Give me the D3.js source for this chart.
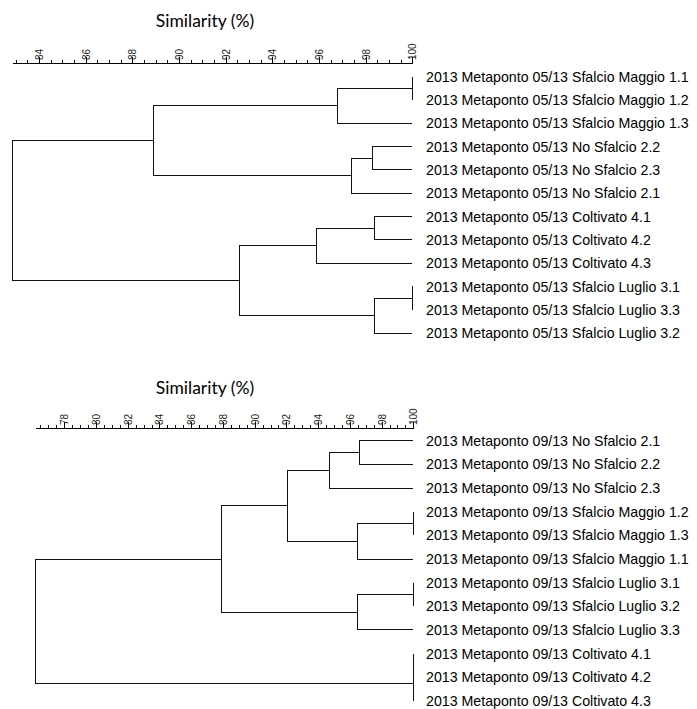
<!DOCTYPE html>
<meta charset="utf-8">
<style>
  body { margin: 0; background: #fff; }
  .axis path, .axis line { fill: none; stroke: #000; shape-rendering: crispEdges; }
  .axis text { font-family: "Liberation Sans", Arial, sans-serif; font-size: 10px; fill: #222; }
  .title { font-family: Lato, "Open Sans", sans-serif; font-size: 17.5px; fill: #000; }
  .leaf { font-family: "Liberation Sans", Arial, sans-serif; font-size: 14.2px; fill: #000; }
  .link { fill: none; stroke: #111; stroke-width: 1; shape-rendering: crispEdges; }
</style>
<body>
<div id="chart"></div>
<script src="https://d3js.org/d3.v7.min.js"></script>
<script>

// top dendrogram (05/13)
var topLeaves = [
  "2013 Metaponto 05/13 Sfalcio Maggio 1.1",
  "2013 Metaponto 05/13 Sfalcio Maggio 1.2",
  "2013 Metaponto 05/13 Sfalcio Maggio 1.3",
  "2013 Metaponto 05/13 No Sfalcio 2.2",
  "2013 Metaponto 05/13 No Sfalcio 2.3",
  "2013 Metaponto 05/13 No Sfalcio 2.1",
  "2013 Metaponto 05/13 Coltivato 4.1",
  "2013 Metaponto 05/13 Coltivato 4.2",
  "2013 Metaponto 05/13 Coltivato 4.3",
  "2013 Metaponto 05/13 Sfalcio Luglio 3.1",
  "2013 Metaponto 05/13 Sfalcio Luglio 3.3",
  "2013 Metaponto 05/13 Sfalcio Luglio 3.2"
];
// merges: [child a, child b, similarity]; ids 0-11 are leaves, merge k gets id 12+k
var topMerges = [
  [0, 1, 100], [12, 2, 96.8], [3, 4, 98.3], [14, 5, 97.4], [13, 15, 88.9],
  [6, 7, 98.4], [17, 8, 95.9], [9, 10, 100], [19, 11, 98.4], [18, 20, 92.6],
  [16, 21, 82.86]
];
var topTicks = [84, 86, 88, 90, 92, 94, 96, 98, 100];

// bottom dendrogram (09/13)
var bottomLeaves = [
  "2013 Metaponto 09/13 No Sfalcio 2.1",
  "2013 Metaponto 09/13 No Sfalcio 2.2",
  "2013 Metaponto 09/13 No Sfalcio 2.3",
  "2013 Metaponto 09/13 Sfalcio Maggio 1.2",
  "2013 Metaponto 09/13 Sfalcio Maggio 1.3",
  "2013 Metaponto 09/13 Sfalcio Maggio 1.1",
  "2013 Metaponto 09/13 Sfalcio Luglio 3.1",
  "2013 Metaponto 09/13 Sfalcio Luglio 3.2",
  "2013 Metaponto 09/13 Sfalcio Luglio 3.3",
  "2013 Metaponto 09/13 Coltivato 4.1",
  "2013 Metaponto 09/13 Coltivato 4.2",
  "2013 Metaponto 09/13 Coltivato 4.3"
];
var bottomMerges = [
  [0, 1, 96.6], [12, 2, 94.7], [3, 4, 100], [14, 5, 96.5], [13, 15, 92.1],
  [6, 7, 100], [17, 8, 96.5], [16, 18, 87.9], [9, 10, 100], [20, 11, 100],
  [19, 21, 76.2]
];
var bottomTicks = [78, 80, 82, 84, 86, 88, 90, 92, 94, 96, 98, 100];

var svg = d3.select("#chart").append("svg")
    .attr("width", 697)
    .attr("height", 709);

function dendrogram(leaves, merges, ticks, lay) {
  var minSim = d3.min(merges, function(m) { return m[2]; });

  var x = d3.scaleLinear()
      .domain([minSim, 100])
      .range([lay.x0, lay.x1]);

  var y = d3.scalePoint()
      .domain(d3.range(leaves.length))
      .range([lay.y0, lay.y0 + lay.step * (leaves.length - 1)]);

  var g = svg.append("g");

  g.append("text")
      .attr("class", "title")
      .attr("x", lay.titleX)
      .attr("y", lay.titleY)
      .attr("text-anchor", "middle")
      .text("Similarity (%)");

  // minor ticks every 0.5
  var minor = d3.range(Math.ceil(minSim * 2) / 2, 100.01, 0.5);
  g.append("g")
      .attr("class", "axis")
      .attr("transform", "translate(0," + lay.axisY + ")")
      .call(d3.axisTop(x).tickValues(minor).tickSize(3).tickSizeOuter(0).tickFormat(""));

  g.append("g")
      .attr("class", "axis")
      .attr("transform", "translate(0," + lay.axisY + ")")
      .call(d3.axisTop(x).tickValues(ticks).tickSize(6).tickSizeOuter(0).tickFormat(d3.format("d")))
      .selectAll("text")
      .attr("transform", "rotate(-90)")
      .attr("x", 3)
      .attr("y", 0)
      .attr("dy", "0.35em")
      .style("text-anchor", "start");

  // node positions
  var nodes = leaves.map(function(d, i) { return {x: x(100), y: y(i)}; });
  merges.forEach(function(m) {
    var a = nodes[m[0]], b = nodes[m[1]];
    var n = {x: x(m[2]), y: (a.y + b.y) / 2};
    nodes.push(n);
    g.append("path")
        .attr("class", "link")
        .attr("d", "M" + a.x + "," + a.y + "H" + n.x + "V" + b.y + "H" + b.x);
  });

  g.selectAll(".leaf")
      .data(leaves)
      .enter().append("text")
      .attr("class", "leaf")
      .attr("x", lay.labelX)
      .attr("y", function(d, i) { return y(i); })
      .attr("dy", "0.36em")
      .text(function(d) { return d; });
}

dendrogram(topLeaves, topMerges, topTicks, {
  x0: 12.4, x1: 412.3, axisY: 63, titleX: 205, titleY: 27,
  y0: 76.7, step: 23.3, labelX: 426
});

dendrogram(bottomLeaves, bottomMerges, bottomTicks, {
  x0: 35.7, x1: 413.3, axisY: 428, titleX: 205, titleY: 394,
  y0: 440.7, step: 23.66, labelX: 426
});

</script>
</body>
